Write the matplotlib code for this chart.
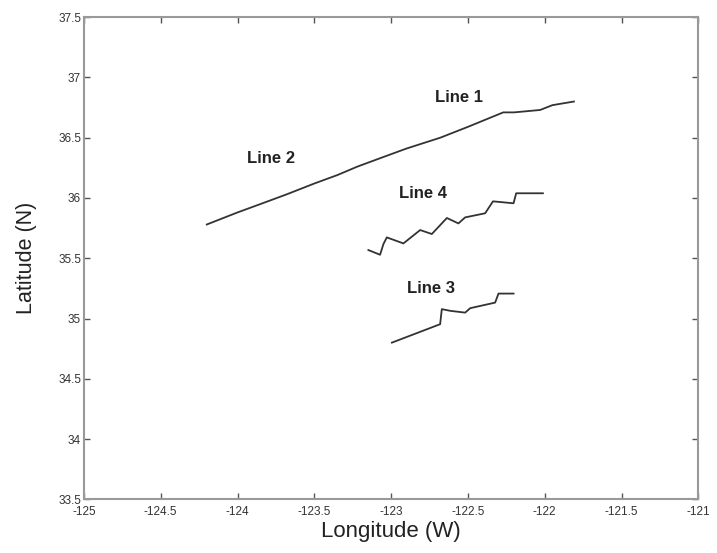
import matplotlib.pyplot as plt

plt.rcParams['font.family'] = ['Liberation Sans', 'DejaVu Sans']

# track coordinates (lon W, lat N)
line12_lon = [-124.20, -124.00, -123.85, -123.68, -123.50, -123.35, -123.22, -123.05,
              -122.90, -122.68, -122.50, -122.27, -122.20, -122.03, -121.95, -121.81]
line12_lat = [35.78, 35.88, 35.95, 36.03, 36.12, 36.19, 36.26, 36.34,
              36.41, 36.50, 36.59, 36.71, 36.71, 36.73, 36.77, 36.80]

line4_lon = [-123.148, -123.072, -123.05, -123.028, -122.92, -122.811, -122.735, -122.637,
             -122.562, -122.518, -122.388, -122.337, -122.203, -122.186, -122.012]
line4_lat = [35.568, 35.529, 35.618, 35.673, 35.623, 35.734, 35.701, 35.834,
             35.789, 35.839, 35.873, 35.972, 35.956, 36.039, 36.039]

line3_lon = [-122.995, -122.681, -122.670, -122.616, -122.518, -122.485, -122.323, -122.301, -122.203]
line3_lat = [34.800, 34.953, 35.078, 35.064, 35.049, 35.086, 35.132, 35.207, 35.207]

labels = ['Line 1', 'Line 2', 'Line 4', 'Line 3']
label_lon = [-122.56, -123.78, -122.79, -122.74]
label_lat = [36.83, 36.33, 36.04, 35.25]

xticks = [-125, -124.5, -124, -123.5, -123, -122.5, -122, -121.5, -121]
yticks = [33.5, 34, 34.5, 35, 35.5, 36, 36.5, 37, 37.5]

fig = plt.figure(figsize=(7.17, 5.53), dpi=100)
ax = fig.add_axes([0.117, 0.097, 0.857, 0.872])

for lon, lat in [(line12_lon, line12_lat), (line4_lon, line4_lat), (line3_lon, line3_lat)]:
    ax.plot(lon, lat, color='#333333', lw=1.3)

for t, x, y in zip(labels, label_lon, label_lat):
    ax.text(x, y, t, ha='center', va='center', fontsize=12, fontweight='bold', color='#222222')

ax.set_xlim(-125, -121)
ax.set_ylim(33.5, 37.5)
ax.set_xticks(xticks)
ax.set_yticks(yticks)
ax.set_xticklabels([f'{v:g}' for v in xticks])
ax.set_yticklabels([f'{v:g}' for v in yticks])
ax.tick_params(direction='in', top=True, right=True, labelsize=8.5, colors='#555555',
               labelcolor='#333333', length=4, width=1, pad=2)
ax.tick_params(axis='x', pad=5)
for s in ax.spines.values():
    s.set_color('#999999')
    s.set_linewidth(1.5)

ax.set_xlabel('Longitude (W)', fontsize=16, color='#222222', labelpad=2)
ax.set_ylabel('Latitude (N)', fontsize=15.5, color='#222222', labelpad=15)

fig.savefig('out.png', dpi=100)
